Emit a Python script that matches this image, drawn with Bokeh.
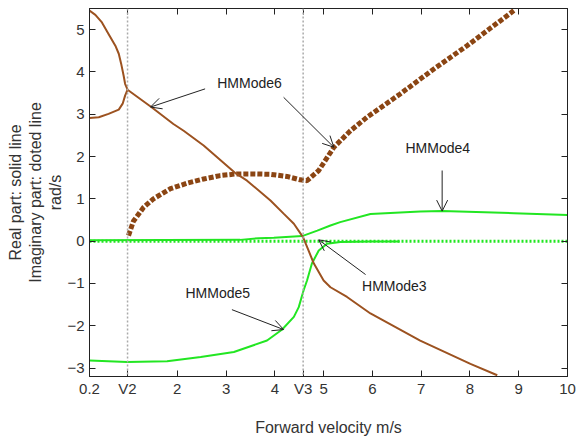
from bokeh.plotting import figure
from bokeh.models import Range1d, FixedTicker, LinearAxis, Span, Label, Arrow, OpenHead
from bokeh.embed import file_html
from bokeh.resources import INLINE

# ---- data ----
v2 = 0.98
v3 = 4.58
x_ticks = [0.2, v2, 2, 3, 4, v3, 5, 6, 7, 8, 9, 10]
x_tick_labels = ["0.2", "V2", "2", "3", "4", "V3", "5", "6", "7", "8", "9", "10"]
y_ticks = [-3, -2, -1, 0, 1, 2, 3, 4, 5]

# HMMode6 real part (solid brown), two branches before V2 then one curve
m6_up_x = [0.2, 0.32, 0.455, 0.59, 0.73, 0.80, 0.85, 0.90, 0.93, 0.98]
m6_up_y = [5.45, 5.35, 5.17, 4.90, 4.62, 4.43, 4.19, 3.91, 3.72, 3.58]
m6_lo_x = [0.2, 0.39, 0.59, 0.80, 0.88, 0.93, 0.98]
m6_lo_y = [2.91, 2.93, 3.01, 3.11, 3.25, 3.44, 3.58]
m6_re_x = [0.98, 1.48, 1.92, 2.13, 2.54, 3.2, 3.43, 3.91, 4.18, 4.39, 4.58, 4.69, 4.8, 5.0, 5.14, 5.48, 5.96, 6.98, 8.01, 8.56]
m6_re_y = [3.58, 3.16, 2.77, 2.61, 2.26, 1.60, 1.43, 0.96, 0.65, 0.41, 0.09, -0.22, -0.53, -0.93, -1.09, -1.32, -1.71, -2.35, -2.90, -3.17]

# HMMode6 imaginary part (dotted brown)
m6_im_x = [1.0, 1.1, 1.31, 1.51, 1.86, 2.2, 2.54, 2.88, 3.22, 3.57, 3.91, 4.25, 4.52, 4.66, 4.9, 5.21, 5.55, 5.89, 6.57, 7.26, 7.94, 8.9]
m6_im_y = [0.13, 0.47, 0.80, 1.0, 1.24, 1.37, 1.47, 1.55, 1.59, 1.59, 1.58, 1.53, 1.45, 1.43, 1.67, 2.22, 2.61, 2.93, 3.48, 4.07, 4.62, 5.45]

# HMMode4 (green solid, upper)
m4_x = [0.2, 3.29, 3.67, 3.98, 4.56, 4.87, 5.14, 5.34, 5.96, 6.98, 7.43, 8.9, 10.0]
m4_y = [0.02, 0.03, 0.07, 0.08, 0.12, 0.25, 0.37, 0.45, 0.64, 0.70, 0.71, 0.66, 0.62]

# HMMode5 (green solid, lower)
m5_x = [0.2, 0.97, 1.79, 2.48, 3.16, 3.84, 4.15, 4.39, 4.49, 4.59, 4.66, 4.76, 4.9, 5.07, 5.34, 5.96, 6.56]
m5_y = [-2.82, -2.86, -2.84, -2.74, -2.62, -2.35, -2.09, -1.79, -1.56, -1.16, -0.93, -0.53, -0.22, -0.06, -0.02, -0.01, -0.01]

# imaginary parts at zero (green dotted)
zero_x = [0.2, 10.0]
zero_y = [0.0, 0.0]

# annotations: (text, x, y)
ann_labels = [("HMMode6", 3.48, 3.75), ("HMMode4", 7.34, 2.21), ("HMMode3", 6.45, -1.05), ("HMMode5", 2.83, -1.23)]
# arrows: (x_start, y_start, x_end, y_end)
ann_arrows = [(2.57, 3.60, 1.45, 3.17), (4.18, 3.40, 5.21, 2.22), (7.43, 1.67, 7.43, 0.71),
              (5.86, -0.79, 4.90, 0.03), (3.12, -1.62, 4.18, -2.09)]

FONT = "Liberation Sans"
BROWN = "#9C5220"
BROWN_DOT = "#8B4513"
GREEN = "#22E622"
TXT = "#333333"

p = figure(width=580, height=439, x_range=Range1d(0.2, 10), y_range=Range1d(-3.2, 5.5),
           output_backend="svg", toolbar_location=None,
           min_border_left=89, min_border_right=13, min_border_top=8, min_border_bottom=63)
p.grid.visible = False
p.outline_line_color = "#222222"
p.background_fill_color = "white"
p.border_fill_color = "white"

# axes
xa = p.xaxis[0]
xa.ticker = FixedTicker(ticks=x_ticks)
xa.major_label_overrides = {t: l for t, l in zip(x_ticks, x_tick_labels)}
xa.axis_label = "Forward velocity m/s"
ya = p.yaxis[0]
ya.ticker = FixedTicker(ticks=y_ticks)
ya.axis_label = "Real part: solid line\nImaginary part: doted line\nrad/s"
for ax in (xa, ya):
    ax.major_tick_in = 6
    ax.major_tick_out = 0
    ax.minor_tick_in = 0
    ax.minor_tick_out = 0
    ax.axis_line_color = "#222222"
    ax.major_tick_line_color = "#222222"
    ax.major_label_text_font = FONT
    ax.major_label_text_font_size = "15px"
    ax.major_label_text_color = TXT
    ax.axis_label_text_font = FONT
    ax.axis_label_text_font_size = "16px"
    ax.axis_label_text_font_style = "normal"
    ax.axis_label_text_color = TXT
xa.major_label_standoff = 3
xa.axis_label_standoff = 19
ya.major_label_standoff = 5
ya.axis_label_standoff = 0

for loc, tk in (("right", y_ticks), ("above", x_ticks)):
    ax = LinearAxis(ticker=FixedTicker(ticks=tk))
    ax.major_tick_in = 6
    ax.major_tick_out = 0
    ax.minor_tick_in = 0
    ax.minor_tick_out = 0
    ax.major_label_text_color = None
    ax.major_label_standoff = 0
    ax.axis_line_color = "#222222"
    ax.major_tick_line_color = "#222222"
    p.add_layout(ax, loc)

# vertical reference lines
for v in (v2, v3):
    p.add_layout(Span(location=v, dimension="height", line_color="#AAAAAA", line_dash="2 2", line_width=1.5))

# curves
p.line(zero_x, zero_y, line_color=GREEN, line_width=3, line_dash="2 2")
p.line(m4_x, m4_y, line_color=GREEN, line_width=2)
p.line(m5_x, m5_y, line_color=GREEN, line_width=2)
p.line(m6_im_x, m6_im_y, line_color=BROWN_DOT, line_width=5, line_dash="5 2")
p.line(m6_up_x, m6_up_y, line_color=BROWN, line_width=2)
p.line(m6_lo_x, m6_lo_y, line_color=BROWN, line_width=2)
p.line(m6_re_x, m6_re_y, line_color=BROWN, line_width=2)

# annotations
for (xs, ys, xe, ye) in ann_arrows:
    p.add_layout(Arrow(end=OpenHead(size=11, line_width=1, line_color="#222222"),
                       x_start=xs, y_start=ys, x_end=xe, y_end=ye,
                       line_color="#222222", line_width=1))
for (t, x, y) in ann_labels:
    p.add_layout(Label(x=x, y=y, text=t, text_align="center", text_baseline="middle",
                       text_font=FONT, text_font_size="14px", text_color="#222222"))

open("out.html", "w").write(file_html(p, INLINE))
